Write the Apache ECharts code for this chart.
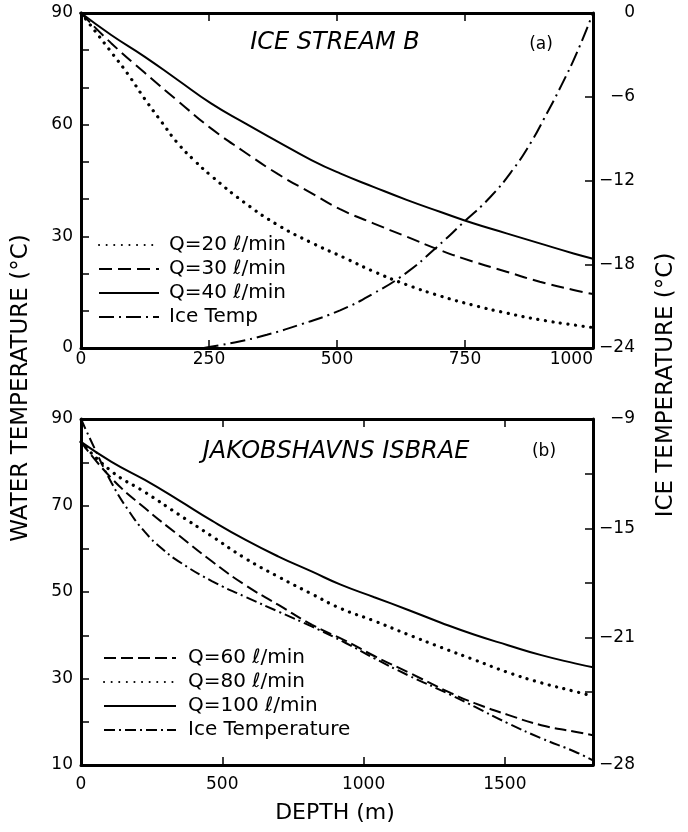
<!DOCTYPE html>
<html><head><meta charset="utf-8">
<script src="https://cdn.jsdelivr.net/npm/echarts@6/dist/echarts.min.js"></script>
<style>html,body{margin:0;padding:0;background:#fff}#c{width:688px;height:832px}</style>
</head><body><div id="c"></div>
<script>
// ---- Panel (a): ICE STREAM B  [depth (m), water temperature (°C)] ----
const q20A = [[0,90],[59,79.5],[92,73.5],[124,67],[157,60.8],[189,55],[222,50.3],[254,46.3],[320,39],[385,33],[450,28.3],[515,24.2],[571,20.6],[636,17],[701,14],[766,11.5],[831,9.4],[896,7.6],[962,6.2],[1000,5.5]];
const q30A = [[0,90],[59,81.9],[124,74],[189,66.4],[254,59],[320,52.6],[385,46.7],[450,41.6],[506,37.3],[571,33.5],[636,29.9],[701,26.3],[766,23.2],[831,20.5],[896,17.8],[962,15.6],[1000,14.5]];
const q40A = [[0,90],[59,84.1],[124,78.3],[189,72],[254,65.7],[320,60.4],[385,55.4],[450,50.5],[506,46.9],[571,43.3],[636,39.8],[701,36.6],[766,33.5],[831,30.8],[896,28.1],[962,25.4],[1000,24]];
// ice temperature (°C, right axis)
const iceA = [[240,-24],[300,-23.6],[363,-23.05],[430,-22.3],[506,-21.3],[571,-20.1],[636,-18.6],[688,-17.0],[747,-15.0],[799,-13.2],[844,-11.2],[880,-9.2],[904,-7.6],[938,-5.2],[969,-2.8],[1000,0]];

// ---- Panel (b): JAKOBSHAVNS ISBRAE ----
const q60B = [[0,84.7],[108,76.3],[226,69.4],[344,63.2],[463,57.1],[581,51.6],[699,47.0],[818,42.4],[937,38.7],[1038,35.2],[1156,31.5],[1310,26.6],[1393,24.3],[1511,21.6],[1629,19.2],[1748,17.7],[1812,16.9]];
const q80B = [[0,84.7],[108,77.9],[226,73.1],[344,68.0],[463,62.9],[581,57.8],[699,53.5],[818,49.5],[919,46.2],[1038,43.3],[1156,40.2],[1274,37.2],[1393,34.3],[1511,31.4],[1629,29.0],[1748,27.0],[1812,25.9]];
const q100B = [[0,84.7],[108,80.1],[226,75.9],[344,71.3],[463,66.5],[581,62.1],[699,58.2],[818,54.7],[919,51.7],[1038,48.8],[1156,45.9],[1274,42.9],[1393,40.1],[1511,37.7],[1629,35.4],[1748,33.5],[1812,32.6]];
const iceB = [[0,-9],[37,-10.25],[108,-12.5],[167,-14.0],[226,-15.2],[285,-16.1],[344,-16.8],[463,-17.9],[581,-18.76],[699,-19.58],[818,-20.4],[937,-21.3],[1038,-22.14],[1156,-23.06],[1310,-24.16],[1393,-24.8],[1511,-25.71],[1629,-26.53],[1748,-27.27],[1812,-27.75]];

// ---- axis ticks / labels ----
const xTicksA = [0,250,500,750,1000];
const xTicksB = [0,500,1000,1500];
const waterLabelsA = [0,30,60,90];
const waterLabelsB = [10,30,50,70,90];
const iceLabelsA = [0,-6,-12,-18,-24];
const iceLabelsB = [-9,-15,-21,-28];
const iceTicksB = [-9,-12,-15,-18,-21,-24,-28];

const namesA = ['Q=20 ℓ/min','Q=30 ℓ/min','Q=40 ℓ/min','Ice Temp'];
const namesB = ['Q=60 ℓ/min','Q=80 ℓ/min','Q=100 ℓ/min','Ice Temperature'];

const FF = '"DejaVu Sans", sans-serif';
const BLK = '#000';
const minusFmt = v => (v < 0 ? '\u2212' + Math.abs(v) : String(v));
const plainFmt = v => String(v);

function xAxisPair(grid, max, ticks) {
  const base = {type:'value', gridIndex:grid, min:0, max:max, splitLine:{show:false},
    axisLine:{show:true, onZero:false, lineStyle:{color:BLK, width:3}},
    axisTick:{show:true, inside:true, length:8, customValues:ticks, lineStyle:{color:BLK, width:1.5}}};
  return [
    Object.assign({}, base, {position:'bottom',
      axisLabel:{show:true, customValues:ticks, color:BLK, fontFamily:FF, fontSize:17, formatter:plainFmt,
        margin: grid === 0 ? 3 : 11, alignMaxLabel: grid === 0 ? 'right' : null}}),
    Object.assign({}, base, {position:'top', axisLabel:{show:false}})
  ];
}
function yAxisDef(grid, pos, min, max, interval, labels, ticks, fmt) {
  return {type:'value', gridIndex:grid, position:pos, min:min, max:max, interval:interval,
    splitLine:{show:false},
    axisLine:{show:true, onZero:false, lineStyle:{color:BLK, width:3}},
    axisTick:Object.assign({show:true, inside:true, length:8, lineStyle:{color:BLK, width:1.5}}, ticks ? {customValues:ticks} : {}),
    axisLabel:{show:true, customValues:labels, color:BLK, fontFamily:FF, fontSize:17,
      margin: pos === 'left' ? 8 : 42, align: 'right', formatter: fmt || plainFmt}};
}

const dotted = w => ({color:BLK, width:w, type:[0.1, 7.5], cap:'round'});
const dashed = (w, d, g) => ({color:BLK, width:w, type:[d, g]});
const solid = w => ({color:BLK, width:w, type:'solid'});
const dashdot = (w, p) => ({color:BLK, width:w, type:p});

function line(name, xi, yi, data, ls) {
  return {name:name, type:'line', xAxisIndex:xi, yAxisIndex:yi, data:data, symbol:'none',
    smooth:0.5, lineStyle:ls, animation:false, silent:true};
}

const legendBase = {orient:'vertical', itemHeight:14, itemGap:4, padding:0, selectedMode:false,
  itemStyle:{opacity:0}};

const option = {
  animation:false,
  backgroundColor:'#fff',
  grid:[
    {left:81, top:13, width:512, height:335},
    {left:81, top:419, width:512, height:346}
  ],
  xAxis:[].concat(xAxisPair(0, 1000, xTicksA), xAxisPair(1, 1812, xTicksB)),
  yAxis:[
    yAxisDef(0, 'left', 0, 90, 10, waterLabelsA, null),
    yAxisDef(0, 'right', -24, 0, 6, iceLabelsA, null, minusFmt),
    yAxisDef(1, 'left', 10, 90, 10, waterLabelsB, null),
    yAxisDef(1, 'right', -28, -9, 1, iceLabelsB, iceTicksB, minusFmt)
  ],
  legend:[
    Object.assign({}, legendBase, {data:namesA, left:98, top:235, itemWidth:60,
      textStyle:{color:BLK, fontFamily:FF, fontSize:20, padding:[0,0,0,5]}}),
    Object.assign({}, legendBase, {data:namesB, left:103, top:648, itemWidth:72,
      textStyle:{color:BLK, fontFamily:FF, fontSize:20, padding:[0,0,0,7]}})
  ],
  series:[
    line(namesA[0], 0, 0, q20A, dotted(3.2)),
    line(namesA[1], 0, 0, q30A, dashed(2, 13, 6)),
    line(namesA[2], 0, 0, q40A, solid(2)),
    line(namesA[3], 0, 1, iceA, dashdot(2, [15,5,2,5])),
    line(namesB[0], 2, 2, q60B, dashed(2, 12, 5)),
    line(namesB[1], 2, 2, q80B, dotted(3.2)),
    line(namesB[2], 2, 2, q100B, solid(2)),
    line(namesB[3], 2, 3, iceB, dashdot(2, [11,4,2,4]))
  ],
  graphic:[
    {type:'text', x:335, y:43, style:{text:'ICE STREAM B', font:'italic 24px ' + FF, fill:BLK, align:'center', verticalAlign:'middle'}},
    {type:'text', x:541, y:45, style:{text:'(a)', font:'17px ' + FF, fill:BLK, align:'center', verticalAlign:'middle'}},
    {type:'text', x:336, y:452, style:{text:'JAKOBSHAVNS ISBRAE', font:'italic 24px ' + FF, fill:BLK, align:'center', verticalAlign:'middle'}},
    {type:'text', x:544, y:452, style:{text:'(b)', font:'17px ' + FF, fill:BLK, align:'center', verticalAlign:'middle'}},
    {type:'text', x:335, y:813, style:{text:'DEPTH (m)', font:'22px ' + FF, fill:BLK, align:'center', verticalAlign:'middle'}},
    {type:'text', x:21, y:388, rotation:Math.PI/2, style:{text:'WATER TEMPERATURE (°C)', font:'23px ' + FF, fill:BLK, align:'center', verticalAlign:'middle'}},
    {type:'text', x:666, y:385, rotation:Math.PI/2, style:{text:'ICE TEMPERATURE (°C)', font:'23px ' + FF, fill:BLK, align:'center', verticalAlign:'middle'}}
  ]
};
const chart = echarts.init(document.getElementById('c'), null, {renderer:'canvas'});
chart.setOption(option);
</script>
</body></html>
